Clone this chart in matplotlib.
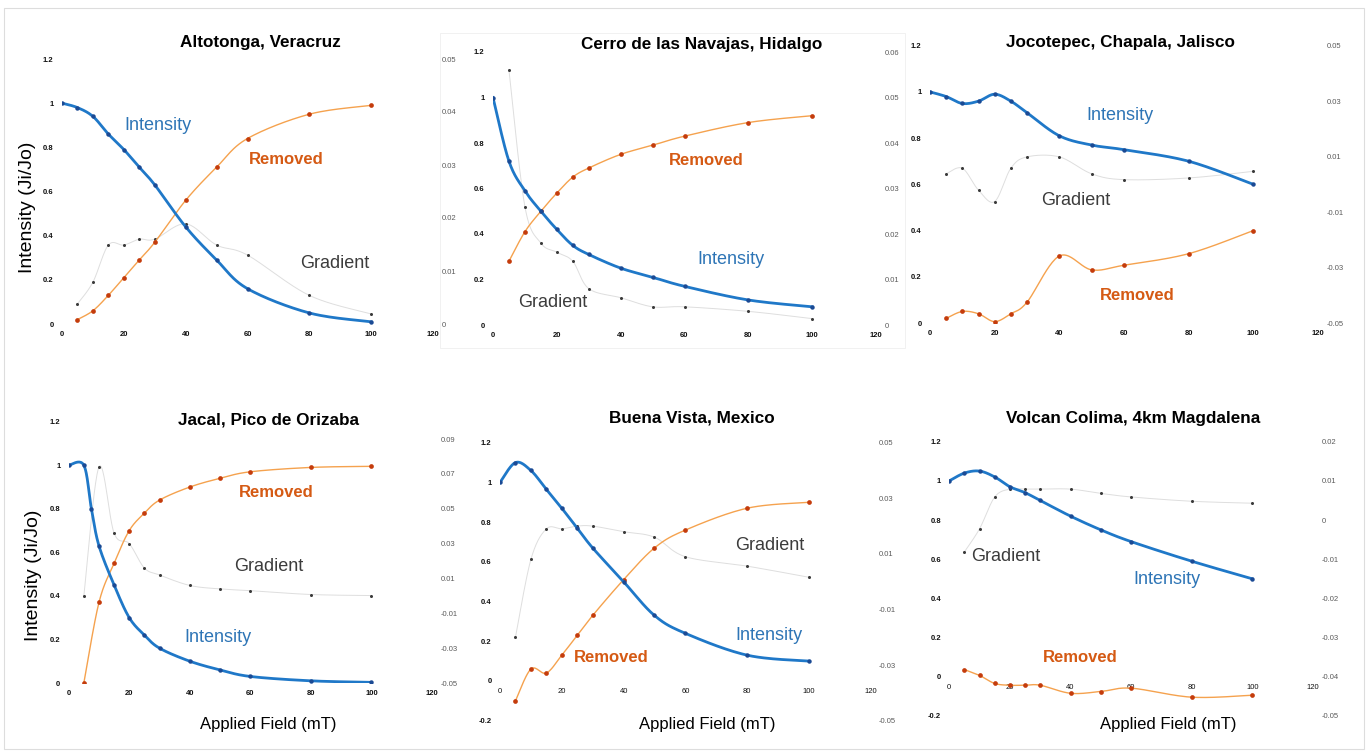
import numpy as np
import matplotlib
matplotlib.use('Agg')
import matplotlib.pyplot as plt
from matplotlib.ticker import FuncFormatter
from matplotlib.patches import Rectangle

plt.rcParams['font.family'] = ['Liberation Sans', 'DejaVu Sans']

W, H = 1372, 753

# applied field steps (mT)
field = [0, 5, 10, 15, 20, 25, 30, 40, 50, 60, 80, 100]
field_rem = [5, 10, 15, 20, 25, 30, 40, 50, 60, 80, 100]
jac_field = [0, 5, 7.5, 10, 15, 20, 25, 30, 40, 50, 60, 80, 100]

# Altotonga, Veracruz
alt_int = [1.0, 0.98, 0.94, 0.86, 0.79, 0.71, 0.63, 0.44, 0.29, 0.16, 0.05, 0.01]
alt_rem = [0.02, 0.06, 0.13, 0.21, 0.29, 0.37, 0.56, 0.71, 0.84, 0.95, 0.99]
alt_grad = [0.0038, 0.0079, 0.0149, 0.0149, 0.016, 0.016, 0.0189, 0.0149, 0.013, 0.0054, 0.0019]

# Cerro de las Navajas, Hidalgo
cer_int = [1.0, 0.72, 0.59, 0.50, 0.42, 0.35, 0.31, 0.25, 0.21, 0.17, 0.11, 0.08]
cer_rem = [0.28, 0.41, 0.50, 0.58, 0.65, 0.69, 0.75, 0.79, 0.83, 0.89, 0.92]
cer_grad = [0.056, 0.026, 0.018, 0.016, 0.014, 0.008, 0.006, 0.004, 0.004, 0.003, 0.0014]

# Jocotepec, Chapala, Jalisco
joc_int = [1.0, 0.98, 0.95, 0.96, 0.99, 0.96, 0.91, 0.81, 0.77, 0.75, 0.70, 0.60]
joc_rem = [0.02, 0.05, 0.04, 0.006, 0.04, 0.09, 0.29, 0.23, 0.25, 0.30, 0.40]
joc_grad = [0.0038, 0.0058, -0.0021, -0.0062, 0.0058, 0.0099, 0.0099, 0.0038, 0.0017, 0.0023, 0.0047]

# Jacal, Pico de Orizaba
jac_int = [1.0, 1.0, 0.80, 0.63, 0.45, 0.30, 0.22, 0.16, 0.10, 0.06, 0.03, 0.01, 0.003]
jac_rem = [0.0, 0.37, 0.55, 0.70, 0.78, 0.84, 0.90, 0.94, 0.97, 0.99, 0.995]
jac_grad = [0.0, 0.074, 0.036, 0.030, 0.016, 0.012, 0.006, 0.004, 0.003, 0.0008, 0.0002]

# Buena Vista, Mexico
bv_int = [1.0, 1.10, 1.06, 0.965, 0.87, 0.77, 0.67, 0.50, 0.33, 0.24, 0.13, 0.10]
bv_rem = [-0.10, 0.06, 0.04, 0.13, 0.23, 0.33, 0.51, 0.67, 0.76, 0.87, 0.90]
bv_grad = [-0.020, 0.008, 0.019, 0.019, 0.020, 0.020, 0.018, 0.016, 0.009, 0.0056, 0.0016]

# Volcan Colima, 4km Magdalena
col_int = [1.0, 1.04, 1.05, 1.02, 0.97, 0.94, 0.90, 0.82, 0.75, 0.69, 0.59, 0.50]
col_rem = [0.037, 0.007, -0.034, -0.043, -0.043, -0.043, -0.084, -0.075, -0.058, -0.104, -0.094]
col_grad = [-0.0081, -0.0022, 0.0059, 0.0079, 0.0079, 0.0079, 0.0079, 0.0068, 0.0059, 0.0048, 0.0043]

titles = ['Altotonga, Veracruz', 'Cerro de las Navajas, Hidalgo', 'Jocotepec, Chapala, Jalisco',
          'Jacal, Pico de Orizaba', 'Buena Vista, Mexico', 'Volcan Colima, 4km Magdalena']

BLUE = '#1f78c8'
BLUE_DOT = '#1b4a94'
BLUE_TXT = '#2e75b6'
ORANGE = '#f5a24e'
ORANGE_DOT = '#c43c0c'
ORANGE_TXT = '#d55a14'
GRAY = '#dedede'
GRAY_DOT = '#3a3a3a'
GRAY_TXT = '#3c3c3c'


def smooth(x, y, sx, sy, n=24):
    # excel-like smoothed line (catmull-rom) in pixel space
    P = np.column_stack([np.asarray(x, float) * sx, np.asarray(y, float) * sy])
    P = np.vstack([P[0], P, P[-1]])
    t = np.linspace(0, 1, n, endpoint=False)[:, None]
    out = []
    for i in range(1, len(P) - 2):
        p0, p1, p2, p3 = P[i - 1], P[i], P[i + 1], P[i + 2]
        out.append(0.5 * (2 * p1 + (p2 - p0) * t + (2 * p0 - 5 * p1 + 4 * p2 - p3) * t ** 2
                          + (-p0 + 3 * p1 - 3 * p2 + p3) * t ** 3))
    out.append(P[-2][None, :])
    out = np.vstack(out)
    return out[:, 0] / sx, out[:, 1] / sy


def fmt(v, pos):
    return '%g' % round(v, 4)


def make_panel(fig, box, ylim, y2lim, y2ticks, xf, intensity, removed, grad, labels, xaxis_at_zero=False):
    x0, x1, yb, yt = box
    ax = fig.add_axes([x0 / W, 1 - yb / H, (x1 - x0) / W, (yb - yt) / H])
    ax2 = ax.twinx()
    ax.set_zorder(ax2.get_zorder() + 1)
    ax.patch.set_visible(False)

    ax.set_xlim(0, 120)
    ax.set_ylim(*ylim)
    ax2.set_ylim(*y2lim)
    sx = (x1 - x0) / 120
    sy = (yb - yt) / (ylim[1] - ylim[0])
    sy2 = (yb - yt) / (y2lim[1] - y2lim[0])

    # gradient on the secondary axis
    gx, gy = smooth(field_rem, grad, sx, sy2)
    ax2.plot(gx, gy, color=GRAY, lw=0.7)
    ax2.plot(field_rem, grad, 'o', ms=2.2, color=GRAY_DOT, mec='none')

    rx, ry = smooth(field_rem, removed, sx, sy)
    ax.plot(rx, ry, color=ORANGE, lw=1.0)
    ax.plot(field_rem, removed, 'o', ms=3.4, color=ORANGE_DOT, mec='none')

    ix, iy = smooth(xf, intensity, sx, sy)
    ax.plot(ix, iy, color=BLUE, lw=2.0)
    ax.plot(xf, intensity, 'o', ms=3.2, color=BLUE_DOT, mec='none')

    for a in (ax, ax2):
        for s in a.spines.values():
            s.set_visible(False)
    ax.set_xticks(np.arange(0, 121, 20))
    ax.set_yticks(np.round(np.arange(ylim[0], ylim[1] + 0.01, 0.2), 2))
    ax2.set_yticks(y2ticks)
    ax.xaxis.set_major_formatter(FuncFormatter(fmt))
    ax.yaxis.set_major_formatter(FuncFormatter(fmt))
    ax2.yaxis.set_major_formatter(FuncFormatter(fmt))
    ax.tick_params(axis='both', length=0, labelsize=5.5, labelcolor='#111111')
    ax.tick_params(axis='y', pad=6)
    ax.tick_params(axis='x', pad=5)
    for lab in ax.get_xticklabels() + ax.get_yticklabels():
        lab.set_fontweight('bold')
    ax2.tick_params(axis='y', length=0, labelsize=5.5, labelcolor='#5a5a5a', pad=6)
    if xaxis_at_zero:
        ax.spines['bottom'].set_position(('data', 0))

    (ixt, iyt), (rxt, ryt), (gxt, gyt) = labels
    ax.text(ixt, iyt, 'Intensity', color=BLUE_TXT, fontsize=13, ha='center', va='center')
    ax.text(rxt, ryt, 'Removed', color=ORANGE_TXT, fontsize=12, fontweight='bold', ha='center', va='center')
    ax.text(gxt, gyt, 'Gradient', color=GRAY_TXT, fontsize=13, ha='center', va='center')
    return ax


fig = plt.figure(figsize=(W / 100, H / 100), dpi=100)
fig.patch.set_facecolor('white')

# light frames as in the source collage
fig.add_artist(Rectangle((4 / W, 1 - 749 / H), 1360 / W, 741 / H, transform=fig.transFigure,
                         fill=False, ec='#dddddd', lw=0.8))
fig.add_artist(Rectangle((440 / W, 1 - 348 / H), 465 / W, 315 / H, transform=fig.transFigure,
                         fill=False, ec='#efefef', lw=0.6))

make_panel(fig, (62, 433, 324, 59), (0, 1.2), (0, 0.05), [0, 0.01, 0.02, 0.03, 0.04, 0.05],
           field, alt_int, alt_rem, alt_grad,
           [(31, 0.90), (72.4, 0.747), (88.3, 0.276)])
make_panel(fig, (493, 876, 325, 52), (0, 1.2), (0, 0.06), [0, 0.01, 0.02, 0.03, 0.04, 0.05, 0.06],
           field, cer_int, cer_rem, cer_grad,
           [(74.6, 0.29), (66.8, 0.725), (18.8, 0.10)])
make_panel(fig, (930, 1318, 323, 45.7), (0, 1.2), (-0.05, 0.05), [-0.05, -0.03, -0.01, 0.01, 0.03, 0.05],
           field, joc_int, joc_rem, joc_grad,
           [(58.8, 0.896), (64.0, 0.118), (45.2, 0.529)])
make_panel(fig, (68.7, 432, 683, 421.7), (0, 1.2), (-0.05, 0.10),
           [-0.05, -0.03, -0.01, 0.01, 0.03, 0.05, 0.07, 0.09],
           jac_field, jac_int, jac_rem, jac_grad,
           [(49.3, 0.207), (68.5, 0.873), (66.1, 0.537)])
make_panel(fig, (500, 870.7, 720.7, 442.7), (-0.2, 1.2), (-0.05, 0.05), [-0.05, -0.03, -0.01, 0.01, 0.03, 0.05],
           field, bv_int, bv_rem, bv_grad,
           [(87.1, 0.227), (35.9, 0.12), (87.4, 0.681)], xaxis_at_zero=True)
make_panel(fig, (949.3, 1313, 716, 441.7), (-0.2, 1.2), (-0.05, 0.02),
           [-0.05, -0.04, -0.03, -0.02, -0.01, 0, 0.01, 0.02],
           field, col_int, col_rem, col_grad,
           [(71.8, 0.498), (43.1, 0.099), (18.7, 0.612)], xaxis_at_zero=True)

title_pos = [(260, 42), (702, 45), (1120, 43), (268, 420), (692, 418), (1133, 419)]
for t, (px, py) in zip(titles, title_pos):
    fig.text(px / W, 1 - py / H, t, fontsize=12.3, fontweight='bold', ha='center', va='center')

for px, py in [(28, 207), (33, 575)]:
    fig.text(px / W, 1 - py / H, 'Intensity (Ji/Jo)', fontsize=14, rotation=90, ha='center', va='center')
for px in [268, 707, 1168]:
    fig.text(px / W, 1 - 724 / H, 'Applied Field (mT)', fontsize=12, ha='center', va='center')

fig.savefig('out.png', dpi=100)
